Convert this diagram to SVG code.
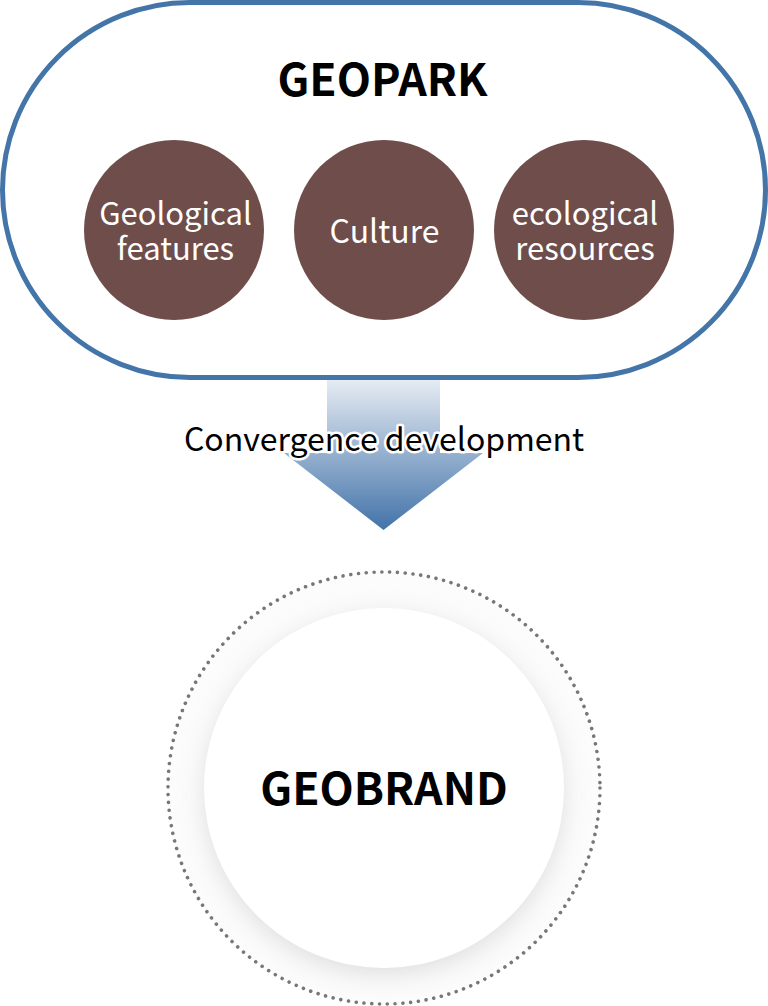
<svg xmlns="http://www.w3.org/2000/svg" width="768" height="1006" viewBox="0 0 768 1006">
<style>
text{font-family:"Noto Sans CJK KR","Noto Sans",sans-serif;text-anchor:middle}
.h{font-size:44.500px;font-weight:700;fill:#000}
.c{font-size:31px;font-weight:400;fill:#fff}
.b{fill:#6f4d4a}
</style>
<defs>
<linearGradient id="g" gradientUnits="userSpaceOnUse" x1="0" y1="378" x2="0" y2="530"><stop offset="0" stop-color="#e8edf4"/><stop offset="1" stop-color="#4273a9"/></linearGradient>
<filter id="s" x="-20%" y="-20%" width="140%" height="140%"><feGaussianBlur stdDeviation="14"/></filter>
</defs>
<rect width="768" height="1006" fill="#fff"/>
<g id="connectors">
<polygon points="327,380 440,380 440,453 483,453 383.500,530 284,453 327,453" fill="url(#g)"/>
<text x="384" y="451" style="font-size:32px;font-weight:400" fill="#000" stroke="#fff" stroke-width="5" stroke-linejoin="round" paint-order="stroke">Convergence development</text>
</g>
<g id="geopark">
<rect x="2.500" y="2.500" width="763" height="375" rx="187.500" fill="#fff" stroke="#4475a9" stroke-width="5"/>
<text class="h" x="382.500" y="96">GEOPARK</text>
</g>
<g id="node-geological"><circle class="b" cx="174" cy="230" r="90"/><text class="c" x="175.500" y="225">Geological</text><text class="c" x="175.500" y="260">features</text></g>
<g id="node-culture"><circle class="b" cx="384" cy="230" r="90"/><text class="c" x="384.500" y="243" style="font-size:32px">Culture</text></g>
<g id="node-ecological"><circle class="b" cx="584" cy="230" r="90"/><text class="c" x="585" y="225">ecological</text><text class="c" x="585" y="260">resources</text></g>
<g id="geobrand">
<circle cx="384" cy="788" r="216" fill="#fcfcfc" stroke="#77777a" stroke-width="3.600" stroke-linecap="round" stroke-dasharray="0.010 7.800"/>
<circle cx="384" cy="795" r="178" fill="#c4c4c4" filter="url(#s)" opacity="0.6"/>
<circle cx="384" cy="788" r="180" fill="#fff"/>
<text class="h" x="384" y="805">GEOBRAND</text>
</g>
</svg>
